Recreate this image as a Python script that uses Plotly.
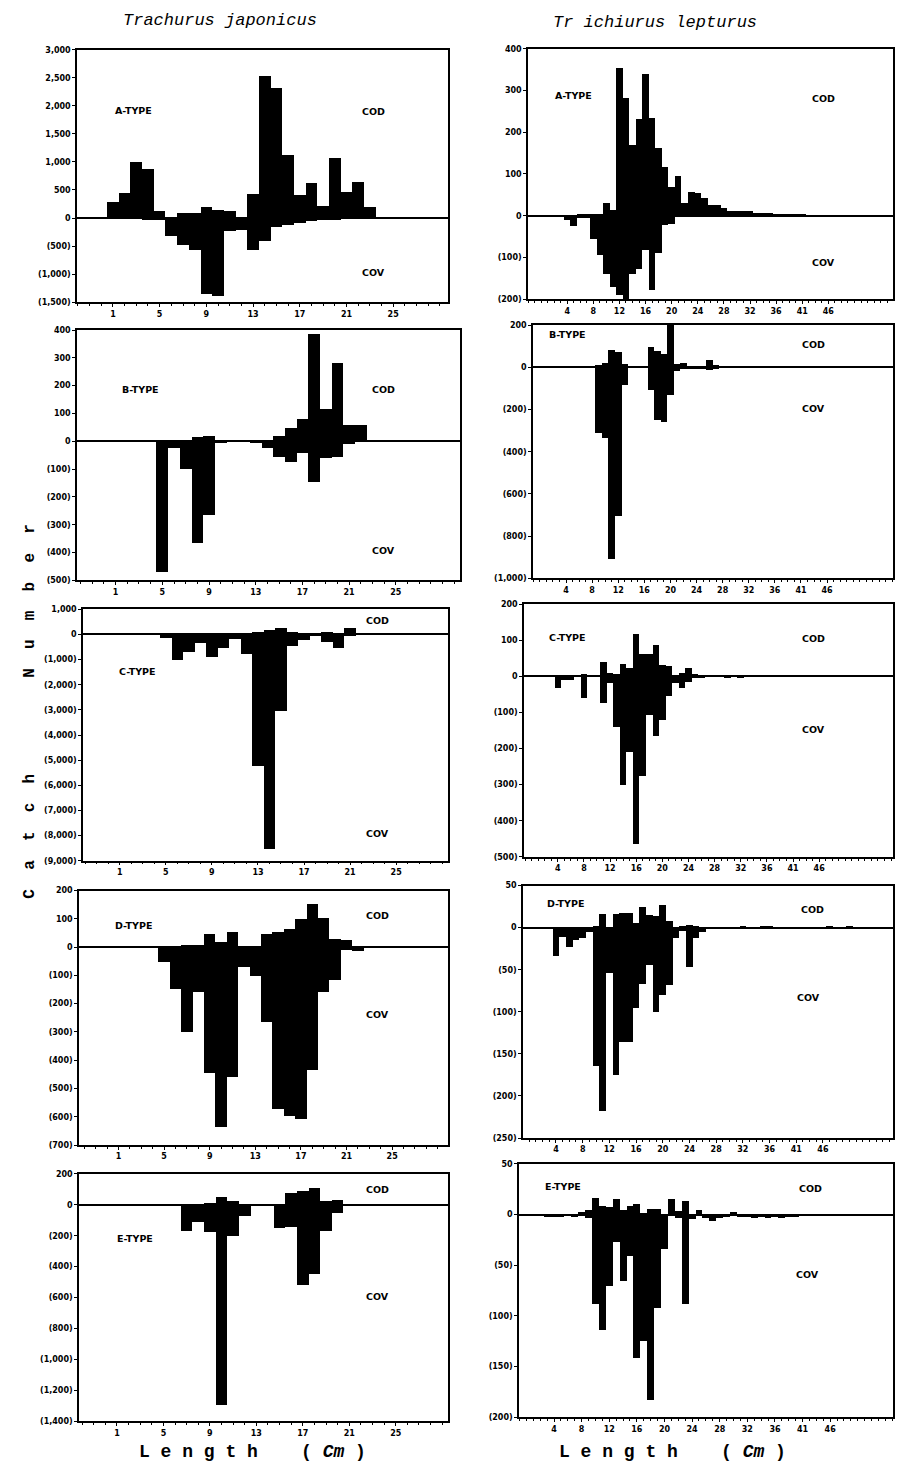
import plotly.graph_objects as go

W, H = 898, 1476

# ---------------- data: Trachurus japonicus (left column) ----------------
TJ_A_cls = list(range(1, 24))
TJ_A_COD = [290, 450, 1010, 870, 130, 10, 100, 100, 210, 150, 130, 20, 435, 2530, 2320, 1120, 410, 630, 220, 1070, 465, 650, 210]
TJ_A_COV = [0, 0, -10, -20, -30, -320, -480, -570, -1350, -1380, -220, -205, -560, -410, -150, -120, -75, -50, -30, -30, -10, -5, 0]

TJ_B_cls = list(range(5, 24))
TJ_B_COD = [0, 0, 5, 15, 20, 5, 2, 2, 3, 0, 18, 48, 82, 385, 115, 280, 60, 58, 3]
TJ_B_COV = [-470, -25, -100, -365, -265, -5, 0, 0, -5, -25, -57, -75, -41, -145, -60, -57, -8, -2, 0]

TJ_C_cls = list(range(4, 23))
TJ_C_COD = [0, 0, 0, 0, 0, 0, 0, 0, 0, 100, 150, 240, 100, 50, 40, 80, 40, 240, 20]
TJ_C_COV = [-20, -150, -1020, -690, -360, -910, -555, -200, -790, -5240, -8550, -3060, -460, -250, -90, -330, -550, -60, 0]

TJ_D_cls = list(range(5, 23))
TJ_D_COD = [0, 5, 8, 8, 49, 21, 55, 5, 0, 47, 55, 64, 101, 155, 105, 31, 26, 0]
TJ_D_COV = [-50, -145, -297, -157, -445, -636, -459, -70, -99, -265, -570, -597, -605, -434, -157, -116, -8, -12]

TJ_E_cls = list(range(7, 22))
TJ_E_COD = [0, 0, 10, 54, 28, 0, 0, 0, 2, 80, 92, 107, 28, 34, 6]
TJ_E_COV = [-166, -108, -172, -1295, -202, -73, -5, 0, -150, -145, -520, -445, -166, -52, 0]

# ---------------- data: Trichiurus lepturus (right column) ----------------
TL_A_cls = list(range(4, 46))
TL_A_COD = [0, 0, 3, 3, 3, 5, 32, 14, 355, 283, 170, 232, 340, 235, 164, 118, 70, 96, 30, 58, 54, 42,
            26, 26, 20, 12, 12, 12, 12, 8, 8, 6, 4, 5, 4, 3, 3, 2, 2, 1, 2, 1]
TL_A_COV = [-10, -25, -5, -5, -56, -94, -138, -170, -190, -198, -140, -128, -82, -178, -88, -22, -20, -2,
            0, 0, 0, 0, 0, 0, 0, 0, 0, 0, 0, 0, 0, 0, 0, 0, 0, 0, 0, 0, 0, 0, 0, 0]

TL_B_cls = list(range(9, 29))
TL_B_COD = [10, 20, 81, 70, 16, 0, 0, 0, 97, 75, 62, 230, 15, 20, 5, 5, 5, 34, 10, 2]
TL_B_COV = [-309, -336, -906, -703, -86, 0, 0, 0, -106, -250, -258, -130, -20, -5, -10, -8, -5, -15, -5, 0]

TL_C_cls = list(range(4, 34))
TL_C_COD = [0, 0, 0, 0, 7, 0, 0, 40, 10, 5, 35, 22, 117, 62, 62, 87, 30, 28, 3, 10, 23, 5, 3, 2, 1, 0, 0, 0, 0, 0]
TL_C_COV = [-34, -12, -12, 0, -61, 0, 0, -75, -20, -140, -302, -210, -465, -277, -107, -167, -121, -54, -20, -34,
            -16, -6, -3, -2, -1, -2, -5, -2, -4, -1]

TL_D_cls = list(range(4, 51))
TL_D_COD = [0, 0, 0, 0, 0, 0, 3, 17, 0, 17, 18, 18, 6, 25, 15, 14, 28, 9, 0, 2, 4, 2, 0,
            0, 0, 0, 0, 0, 2, 0, 0, 2, 3, 0, 0, 0, 0, 0, 0, 0, 0, 2, 0, 0, 2, 0, 1]
TL_D_COV = [-33, -11, -22, -14, -12, -5, -164, -217, -53, -175, -135, -135, -95, -67, -44, -100, -80, -68, -12, -3, -46, -12, -5,
            0, 0, 0, 0, 0, 0, 0, 0, 0, 0, 0, 0, 0, 0, 0, 0, 0, 0, 0, 0, 0, 0, 0, 0]

TL_E_cls = list(range(3, 40))
TL_E_COD = [0, 0, 0, 0, 0, 3, 5, 16, 9, 8, 15, 5, 9, 11, 2, 6, 6, 0, 15, 4, 14, 0, 5, 0, 0, 0, 0, 3,
            0, 0, 0, 0, 0, 0, 0, 0, 0]
TL_E_COV = [-2, -2, -2, -1, -2, 0, -3, -88, -114, -70, -27, -65, -41, -141, -125, -183, -92, -34, -1, -3, -88, -4, -1,
            -3, -6, -3, -2, 0, -2, -2, -3, -2, -3, -2, -3, -2, -2]

# tick labels
TJ_xticks = [1, 5, 9, 13, 17, 21, 25]
TJ_xlabels = ["1", "5", "9", "13", "17", "21", "25"]
TL_xticks = [4, 8, 12, 16, 20, 24, 28, 32, 36, 40, 44]
TL_xlabels = ["4", "8", "12", "16", "20", "24", "28", "32", "36", "41", "46"]

TJ_A_yt = [3000, 2500, 2000, 1500, 1000, 500, 0, -500, -1000, -1500]
TJ_A_yl = ["3,000", "2,500", "2,000", "1,500", "1,000", "500", "0", "(500)", "(1,000)", "(1,500)"]
TJ_B_yt = [400, 300, 200, 100, 0, -100, -200, -300, -400, -500]
TJ_B_yl = ["400", "300", "200", "100", "0", "(100)", "(200)", "(300)", "(400)", "(500)"]
TJ_C_yt = [1000, 0, -1000, -2000, -3000, -4000, -5000, -6000, -7000, -8000, -9000]
TJ_C_yl = ["1,000", "0", "(1,000)", "(2,000)", "(3,000)", "(4,000)", "(5,000)", "(6,000)", "(7,000)", "(8,000)", "(9,000)"]
TJ_D_yt = [200, 100, 0, -100, -200, -300, -400, -500, -600, -700]
TJ_D_yl = ["200", "100", "0", "(100)", "(200)", "(300)", "(400)", "(500)", "(600)", "(700)"]
TJ_E_yt = [200, 0, -200, -400, -600, -800, -1000, -1200, -1400]
TJ_E_yl = ["200", "0", "(200)", "(400)", "(600)", "(800)", "(1,000)", "(1,200)", "(1,400)"]

TL_A_yt = [400, 300, 200, 100, 0, -100, -200]
TL_A_yl = ["400", "300", "200", "100", "0", "(100)", "(200)"]
TL_B_yt = [200, 0, -200, -400, -600, -800, -1000]
TL_B_yl = ["200", "0", "(200)", "(400)", "(600)", "(800)", "(1,000)"]
TL_C_yt = [200, 100, 0, -100, -200, -300, -400, -500]
TL_C_yl = ["200", "100", "0", "(100)", "(200)", "(300)", "(400)", "(500)"]
TL_D_yt = [50, 0, -50, -100, -150, -200, -250]
TL_D_yl = ["50", "0", "(50)", "(100)", "(150)", "(200)", "(250)"]
TL_E_yt = [50, 0, -50, -100, -150, -200]
TL_E_yl = ["50", "0", "(50)", "(100)", "(150)", "(200)"]

# ---------------- layout of panels (pixel boxes) ----------------
panels = [
    ("A-TYPE", TJ_A_cls, TJ_A_COD, TJ_A_COV, (77, 448, 46, 300), [-2.08, 29.7], [-1500, 3000], TJ_A_yt, TJ_A_yl,
     TJ_xticks, TJ_xlabels, (133, 107), (373, 108), (373, 270)),
    ("B-TYPE", TJ_B_cls, TJ_B_COD, TJ_B_COV, (77, 460, 328, 580), [-2.31, 30.5], [-500, 400], TJ_B_yt, TJ_B_yl,
     TJ_xticks, TJ_xlabels, (140, 388), (383, 388), (383, 550)),
    ("C-TYPE", TJ_C_cls, TJ_C_COD, TJ_C_COV, (83, 448, 609, 862), [-2.19, 29.5], [-9000, 1000], TJ_C_yt, TJ_C_yl,
     TJ_xticks, TJ_xlabels, (137, 672), (377, 620), (377, 835)),
    ("D-TYPE", TJ_D_cls, TJ_D_COD, TJ_D_COV, (79, 448, 892, 1148), [-2.46, 29.9], [-700, 200], TJ_D_yt, TJ_D_yl,
     TJ_xticks, TJ_xlabels, (133, 927), (377, 917), (377, 1017)),
    ("E-TYPE", TJ_E_cls, TJ_E_COD, TJ_E_COV, (79, 448, 1177, 1426), [-2.27, 29.5], [-1400, 200], TJ_E_yt, TJ_E_yl,
     TJ_xticks, TJ_xlabels, (135, 1242), (377, 1193), (377, 1300)),
    ("A-TYPE", TL_A_cls, TL_A_COD, TL_A_COV, (528, 893, 45, 297), [-2.0, 53.9], [-200, 400], TL_A_yt, TL_A_yl,
     TL_xticks, TL_xlabels, (573, 92), (823, 95), (823, 260)),
    ("B-TYPE", TL_B_cls, TL_B_COD, TL_B_COV, (533, 893, 323, 578), [-1.06, 54.1], [-1000, 200], TL_B_yt, TL_B_yl,
     TL_xticks, TL_xlabels, (567, 333), (813, 343), (813, 407)),
    ("C-TYPE", TL_C_cls, TL_C_COD, TL_C_COV, (524, 893, 604, 858), [-1.17, 55.3], [-500, 200], TL_C_yt, TL_C_yl,
     TL_xticks, TL_xlabels, (567, 637), (813, 638), (813, 730)),
    ("D-TYPE", TL_D_cls, TL_D_COD, TL_D_COV, (523, 893, 887, 1141), [-0.94, 54.5], [-250, 50], TL_D_yt, TL_D_yl,
     TL_xticks, TL_xlabels, (565, 905), (812, 911), (808, 1000)),
    ("E-TYPE", TL_E_cls, TL_E_COD, TL_E_COV, (519, 893, 1167, 1422), [-1.07, 53.1], [-200, 50], TL_E_yt, TL_E_yl,
     TL_xticks, TL_xlabels, (563, 1190), (810, 1192), (807, 1278)),
]


def px_x(v):
    return v / W


def px_y(v):
    return 1 - v / H


fig = go.Figure()
layout = dict(width=W, height=H, margin=dict(l=0, r=0, t=0, b=0),
              paper_bgcolor="white", plot_bgcolor="white", showlegend=False,
              barmode="relative", bargap=0)
annotations = []
tickfont = dict(family="DejaVu Sans", size=8, color="black", weight="bold")
lblfont = dict(family="DejaVu Sans", size=9.5, color="black", weight="bold")

for n, (name, cls, cod, cov, box, xr, yr, yt, yl, xt, xl, tpos, cpos, vpos) in enumerate(panels, start=1):
    l, r, t, b = box
    xa = "x" if n == 1 else f"x{n}"
    ya = "y" if n == 1 else f"y{n}"
    for vals in (cod, cov):
        fig.add_trace(go.Bar(x=cls, y=vals, xaxis=xa, yaxis=ya, width=1.0,
                             marker=dict(color="black", line=dict(width=0)),
                             hoverinfo="skip"))
    xkey = "xaxis" if n == 1 else f"xaxis{n}"
    ykey = "yaxis" if n == 1 else f"yaxis{n}"
    layout[xkey] = dict(domain=[px_x(l), px_x(r)], anchor=ya, range=xr, showgrid=False, zeroline=False,
                        showline=True, linecolor="black", linewidth=1.5, mirror=True,
                        tickmode="array", tickvals=xt, ticktext=xl, ticks="outside", ticklen=3,
                        tickwidth=1.2, tickcolor="black", tickfont=tickfont,
                        minor=dict(tickmode="linear", tick0=0, dtick=1, ticks="outside", ticklen=2,
                                   tickcolor="black", tickwidth=1))
    layout[ykey] = dict(domain=[px_y(b), px_y(t)], anchor=xa, range=yr, showgrid=False, zeroline=True,
                        zerolinecolor="black", zerolinewidth=1.6,
                        showline=True, linecolor="black", linewidth=1.5, mirror=True,
                        tickmode="array", tickvals=yt, ticktext=yl, ticks="outside", ticklen=3,
                        tickwidth=1.2, tickcolor="black", tickfont=tickfont)
    for txt, (ax_, ay_) in ((name, tpos), ("COD", cpos), ("COV", vpos)):
        annotations.append(dict(text=txt, x=px_x(ax_), y=px_y(ay_), xref="paper", yref="paper",
                                showarrow=False, xanchor="center", yanchor="middle", font=lblfont))

# titles and axis titles
titlefont = dict(family="Liberation Mono", size=17, color="black", style="italic")
annotations.append(dict(text="Trachurus japonicus", x=px_x(220), y=px_y(17), xref="paper", yref="paper",
                        showarrow=False, xanchor="center", yanchor="middle", font=titlefont))
annotations.append(dict(text="Tr ichiurus lepturus", x=px_x(655), y=px_y(19), xref="paper", yref="paper",
                        showarrow=False, xanchor="center", yanchor="middle", font=titlefont))
axfont = dict(family="Liberation Mono", size=16, color="black", weight="bold")
sp2 = "&nbsp;&nbsp;"
catch = sp2.join("Catch")
number = sp2.join("Number")
annotations.append(dict(text=catch + "&nbsp;" * 10 + number,
                        x=px_x(30), y=px_y(712), xref="paper", yref="paper", textangle=-90,
                        showarrow=False, xanchor="center", yanchor="middle", font=axfont))
lenfont = dict(family="Liberation Mono", size=18, color="black", weight="bold")
for cx in (252, 672):
    annotations.append(dict(text="L e n g t h &nbsp;&nbsp;&nbsp;( <i>Cm</i> )", x=px_x(cx), y=px_y(1457),
                            xref="paper", yref="paper", showarrow=False, xanchor="center",
                            yanchor="middle", font=lenfont))

layout["annotations"] = annotations
fig.update_layout(**layout)
fig.write_html("out.html")
